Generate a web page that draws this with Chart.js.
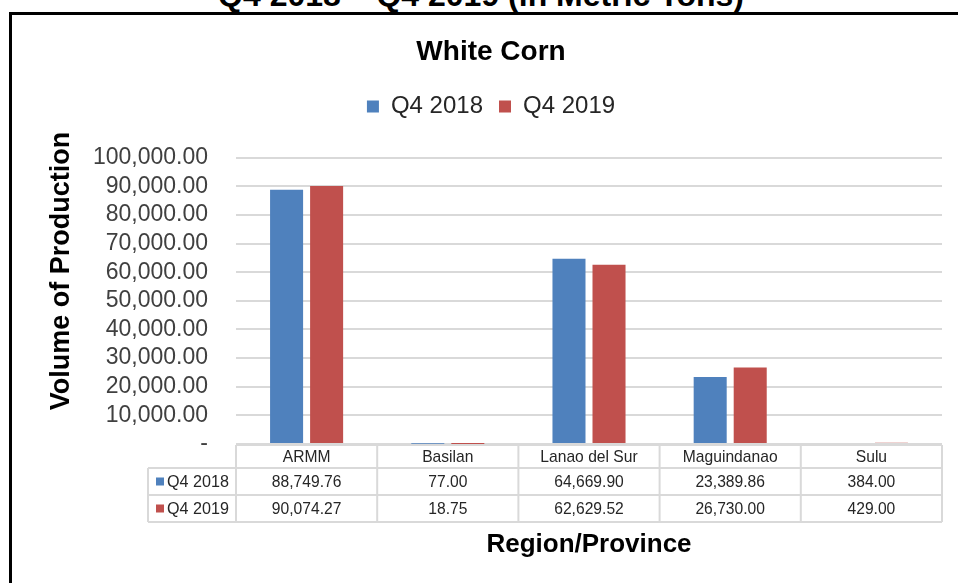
<!DOCTYPE html>
<html>
<head>
<meta charset="utf-8">
<script src="https://cdn.jsdelivr.net/npm/chart.js@4.4.0/dist/chart.umd.min.js"></script>
<style>
  body { margin: 0; background: #fff; }
  #page { position: relative; width: 958px; height: 583px; overflow: hidden; font-family: Arial, "Liberation Sans", sans-serif; }
  #topTitle { position: absolute; left: 0; top: 0; width: 958px; height: 12px; overflow: hidden; }
  #topTitle span { position: absolute; left: 0; width: 962px; top: -21px; text-align: center; font: bold 32px Arial, "Liberation Sans", sans-serif; line-height: 32px; color: #000; white-space: nowrap; }
  #frame { position: absolute; left: 9px; top: 12px; width: 1000px; height: 700px; border-left: 3px solid #000; border-top: 3px solid #000; }
  #wrap { position: absolute; left: 0; top: 0; width: 958px; height: 583px; }
</style>
</head>
<body>
<div id="page">
  <div id="topTitle"><span>Q4 2018 – Q4 2019 (in Metric Tons)</span></div>
  <div id="frame"></div>
  <div id="wrap"><canvas id="chart"></canvas></div>
</div>
<script>
// Données
const categories = ["ARMM", "Basilan", "Lanao del Sur", "Maguindanao", "Sulu"]
const q4_2018 = [88749.76, 77.0, 64669.9, 23389.86, 384.0]
const q4_2019 = [90074.27, 18.75, 62629.52, 26730.0, 429.0]
const seriesNames = ["Q4 2018", "Q4 2019"]
const seriesColors = ["#4f81bd", "#c0504d"]
const yMin = 0
const yMax = 100000
const yStep = 10000

const fmt = (v) =>
  v.toLocaleString("en-US", { minimumFractionDigits: 2, maximumFractionDigits: 2 })

// texte un peu condensé, comme dans Excel
function drawText(ctx, text, x, y, sx) {
  ctx.save()
  ctx.translate(x, y)
  ctx.scale(sx, 1)
  ctx.fillText(text, 0, 0)
  ctx.restore()
}

// Tableau de données sous le graphique + titres des axes
const tablePlugin = {
  id: "dataTable",
  afterDraw(chart) {
    const ctx = chart.ctx
    const area = chart.chartArea
    const xs = chart.scales.x
    const colW = (area.right - area.left) / categories.length
    const top = area.bottom + 1
    const rows = [top, top + 23, top + 50, top + 77]
    const left = 148

    ctx.save()
    ctx.strokeStyle = "#d9d9d9"
    ctx.lineWidth = 2
    ctx.beginPath()
    ctx.moveTo(area.left, rows[0])
    ctx.lineTo(area.right, rows[0])
    for (let r = 1; r < rows.length; r++) {
      ctx.moveTo(left, rows[r])
      ctx.lineTo(area.right, rows[r])
    }
    for (let i = 0; i <= categories.length; i++) {
      const x = i < categories.length ? xs.getPixelForValue(i) - colW / 2 : xs.getPixelForValue(i - 1) + colW / 2
      ctx.moveTo(x, rows[0])
      ctx.lineTo(x, rows[3])
    }
    ctx.moveTo(left, rows[1])
    ctx.lineTo(left, rows[3])
    ctx.stroke()

    ctx.fillStyle = "#262626"
    ctx.font = "17px Arial, 'Liberation Sans', sans-serif"
    ctx.textBaseline = "middle"
    ctx.textAlign = "center"
    const series = [q4_2018, q4_2019]
    categories.forEach((c, i) => {
      const cx = xs.getPixelForValue(i)
      drawText(ctx, c, cx, (rows[0] + rows[1]) / 2 + 1, 0.92)
      series.forEach((s, k) => {
        drawText(ctx, fmt(s[i]), cx, (rows[k + 1] + rows[k + 2]) / 2 + 1, 0.92)
      })
    })
    ctx.textAlign = "left"
    seriesNames.forEach((name, k) => {
      const cy = (rows[k + 1] + rows[k + 2]) / 2
      ctx.fillStyle = seriesColors[k]
      ctx.fillRect(156, cy - 4, 8, 8)
      ctx.fillStyle = "#262626"
      drawText(ctx, name, 167, cy + 1, 0.95)
    })

    // titre de l'axe X
    ctx.fillStyle = "#000"
    ctx.font = "bold 26px Arial, 'Liberation Sans', sans-serif"
    ctx.textAlign = "center"
    drawText(ctx, "Region/Province", (area.left + area.right) / 2, 545, 1)

    // titre de l'axe Y
    ctx.save()
    ctx.translate(62, 271)
    ctx.rotate(-Math.PI / 2)
    ctx.font = "bold 27px Arial, 'Liberation Sans', sans-serif"
    ctx.fillText("Volume of Production", 0, 0)
    ctx.restore()
    ctx.restore()
  },
}

new Chart(document.getElementById("chart"), {
  type: "bar",
  data: {
    labels: categories,
    datasets: [
      { label: seriesNames[0], data: q4_2018, backgroundColor: seriesColors[0] },
      { label: seriesNames[1], data: q4_2019, backgroundColor: seriesColors[1] },
    ],
  },
  options: {
    responsive: true,
    maintainAspectRatio: false,
    animation: false,
    categoryPercentage: 0.567,
    barPercentage: 0.825,
    layout: { padding: { top: 0, left: 40, right: 16, bottom: 139 } },
    scales: {
      x: {
        position: "top",
        ticks: { display: false },
        grid: { display: false },
        border: { display: false },
        afterFit: (s) => { s.height = 29 },
      },
      y: {
        min: yMin,
        max: yMax,
        ticks: {
          stepSize: yStep,
          autoSkip: false,
          padding: 28,
          color: "#404040",
          font: { size: 23, lineHeight: 1, family: "Arial, 'Liberation Sans', sans-serif" },
          callback: (v) => (v === 0 ? "-" : fmt(v)),
        },
        grid: { color: "#d9d9d9", lineWidth: 2, drawTicks: false },
        border: { display: false },
        afterFit: (s) => { s.width = 196 },
      },
    },
    plugins: {
      tooltip: { enabled: false },
      title: {
        display: true,
        text: "White Corn",
        color: "#000",
        font: { size: 28, weight: "bold", family: "Arial, 'Liberation Sans', sans-serif" },
        padding: { top: 35, bottom: 10 },
      },
      legend: {
        labels: {
          boxWidth: 12,
          boxHeight: 12,
          padding: 16,
          color: "#262626",
          font: { size: 24, family: "Arial, 'Liberation Sans', sans-serif" },
        },
      },
    },
  },
  plugins: [tablePlugin],
})
</script>
</body>
</html>
